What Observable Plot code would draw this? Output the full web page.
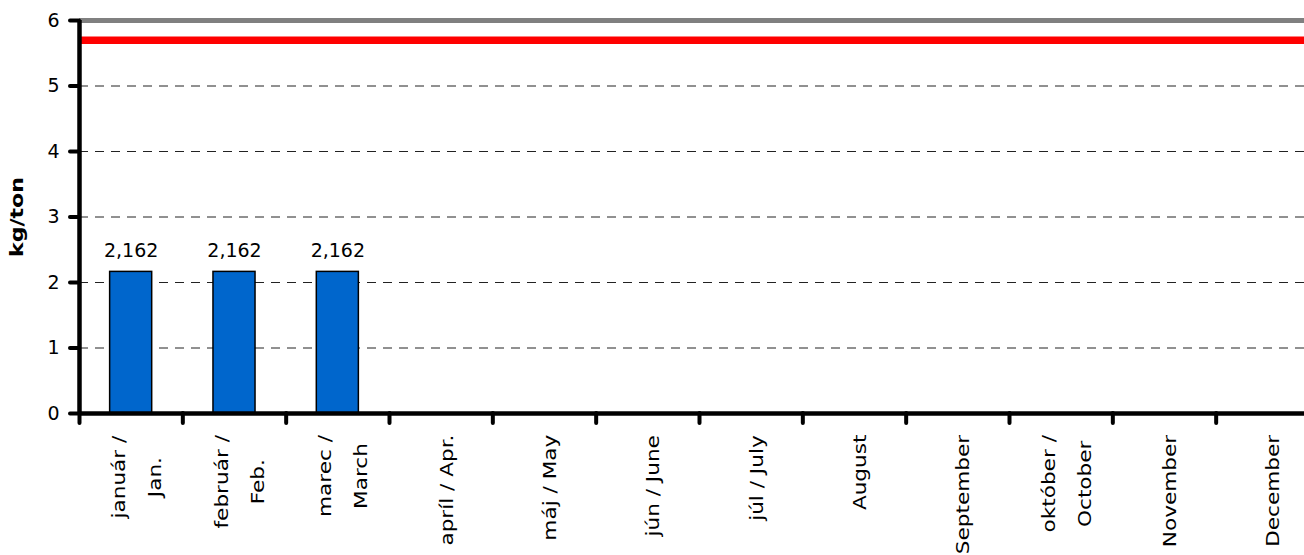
<!DOCTYPE html>
<html>
<head>
<meta charset="utf-8">
<script src="https://cdn.jsdelivr.net/npm/d3@7"></script>
<script src="https://cdn.jsdelivr.net/npm/@observablehq/plot@0.6"></script>
<style>
  html, body { margin: 0; padding: 0; background: #fff; }
  #chart svg { display: block; }
</style>
</head>
<body>
<div id="chart"></div>
<script>
// ---- data ----
const months = [
  "január /\nJan.", "február /\nFeb.", "marec /\nMarch", "apríl / Apr.",
  "máj / May", "jún / June", "júl / July", "August", "September",
  "október /\nOctober", "November", "December"
];
const values = [2.162, 2.162, 2.162, null, null, null, null, null, null, null, null, null];
const valueLabels = ["2,162", "2,162", "2,162", "", "", "", "", "", "", "", "", ""];
const yTicks = [0, 1, 2, 3, 4, 5, 6];
const gridValues = [1, 2, 3, 4, 5];
const limitValue = [5.7];
const topValue = [6];
const yLabel = "kg/ton";

// table built from the arrays
const table = months.map((m, i) => ({i, month: m, value: values[i], label: valueLabels[i]}))
  .filter(d => d.value != null);

const FONT = "'Comic Sans MS', 'DejaVu Sans', sans-serif";
const barPad = 0.2965;
const stretch = 1.2;

const chart = Plot.plot({
  width: 1304,
  height: 555,
  marginLeft: 79,
  marginRight: -15,
  marginTop: 20,
  marginBottom: 142,
  style: {fontFamily: FONT, fontSize: "19px", color: "#000", background: "#fff"},
  x: {type: "linear", domain: [0, months.length], axis: null},
  y: {domain: [0, 6], axis: null},
  marks: [
    Plot.ruleY(gridValues, {stroke: "#222", strokeWidth: 1, strokeDasharray: "9,7"}),
    Plot.ruleY(topValue, {stroke: "#808080", strokeWidth: 5}),
    Plot.ruleY(limitValue, {stroke: "#FF0000", strokeWidth: 7.5}),
    Plot.rectY(table, {
      x1: d => d.i + barPad, x2: d => d.i + 1 - barPad, y: "value",
      fill: "#0066CC", stroke: "#000", strokeWidth: 1.5
    }),
    Plot.text(table, {
      x: d => d.i + 0.5, y: "value", text: "label",
      dy: -21, lineAnchor: "middle", fontSize: 19, fill: "#000"
    }),
    Plot.ruleX([0], {stroke: "#000", strokeWidth: 4.5}),
    Plot.ruleY([0], {stroke: "#000", strokeWidth: 4.5}),
    Plot.axisY(yTicks, {
      tickSize: 9, tickPadding: 11, strokeWidth: 4, strokeLinecap: "round",
      fontSize: 19, label: null, tickFormat: d => String(d)
    }),
    Plot.axisX(d3.range(months.length + 1), {
      tickSize: 10, strokeWidth: 4, strokeLinecap: "round",
      tickFormat: () => "", label: null
    }),
    Plot.text(months, {
      x: (d, i) => i + 0.5, frameAnchor: "bottom", text: d => d,
      rotate: -90, textAnchor: "middle", lineAnchor: "middle",
      lineHeight: 2.0, dy: 21, fontSize: 18, fill: "#000", className: "xlab"
    }),
    Plot.text([yLabel], {
      frameAnchor: "left", rotate: -90, dx: -62, text: d => d,
      textAnchor: "middle", lineAnchor: "middle",
      fontWeight: "bold", fontSize: 17, fill: "#000", className: "ylab",
      fontFamily: "'DejaVu Sans', sans-serif"
    })
  ]
});

document.getElementById("chart").appendChild(chart);

// top-align rotated month labels (lines centred on each other) and stretch like the original
chart.querySelectorAll("g.xlab text").forEach(el => {
  const w = el.getBBox().width;
  el.setAttribute("transform", el.getAttribute("transform") + ` translate(${-w * stretch / 2},0) scale(${stretch},1)`);
});
chart.querySelectorAll("g.ylab text").forEach(el => {
  el.setAttribute("transform", el.getAttribute("transform") + ` scale(1.3,1)`);
});
</script>
</body>
</html>
